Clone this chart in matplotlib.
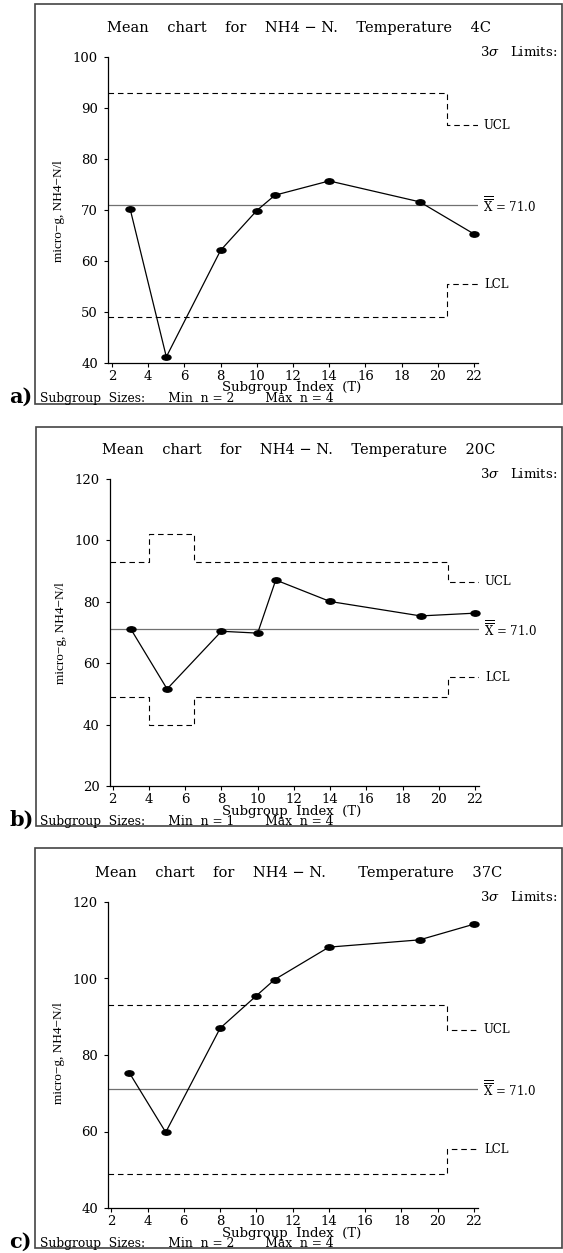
import matplotlib
matplotlib.use("Agg")
import matplotlib.pyplot as plt
import matplotlib.transforms as mtransforms
from matplotlib.patches import Rectangle
from matplotlib.path import Path

# subgroup indices shared by the three temperatures
subgroups = [3, 5, 8, 10, 11, 14, 19, 22]

mean_4c = [70.2, 41.2, 62.1, 69.9, 72.9, 75.7, 71.6, 65.3]
mean_20c = [71.1, 51.6, 70.4, 69.8, 87.1, 80.1, 75.4, 76.3]
mean_37c = [75.3, 59.8, 87.0, 95.5, 99.7, 108.2, 110.1, 114.2]

center = 71.0

ucl_4c = [93.0, 93.0, 93.0, 93.0, 93.0, 93.0, 93.0, 86.6]
lcl_4c = [49.0, 49.0, 49.0, 49.0, 49.0, 49.0, 49.0, 55.4]
ucl_20c = [93.0, 102.1, 93.0, 93.0, 93.0, 93.0, 93.0, 86.6]
lcl_20c = [49.0, 39.9, 49.0, 49.0, 49.0, 49.0, 49.0, 55.4]
ucl_37c = ucl_4c
lcl_37c = lcl_4c

titles = ["Mean    chart    for    NH4 \u2212 N.    Temperature    4C",
          "Mean    chart    for    NH4 \u2212 N.    Temperature    20C",
          "Mean    chart    for    NH4 \u2212 N.       Temperature    37C"]
size_notes = ["Subgroup  Sizes:      Min  n = 2        Max  n = 4",
              "Subgroup  Sizes:      Min  n = 1        Max  n = 4",
              "Subgroup  Sizes:      Min  n = 2        Max  n = 4"]
panel_tags = ["a)", "b)", "c)"]
xticks = list(range(2, 23, 2))

W, H = 563, 1253
SERIF = "DejaVu Serif"
plt.rcParams["mathtext.fontset"] = "dejavuserif"

# flattened dot used for the subgroup means
dot = Path.unit_circle().transformed(mtransforms.Affine2D().scale(1.0, 0.6))

fig = plt.figure(figsize=(W / 100, H / 100), dpi=100)


def fx(x):
    return x / W


def fy(y):
    return 1 - y / H


def step_limits(ax, xs, vals, xlim):
    # limits change halfway between neighbouring subgroups
    edges = [xlim[0]] + [(a + b) / 2 for a, b in zip(xs[:-1], xs[1:])] + [xlim[1]]
    ys = list(vals) + [vals[-1]]
    ax.step(edges, ys, where="post", color="black", lw=0.8,
            linestyle=(0, (5, 3.5)))


def draw_panel(frame, box, xlim, ylim, ystep, means, ucl, lcl, title, note, tag, ytext):
    left, top, right, bottom = box
    # outer frame of the panel
    fl, ft, fr, fb = frame
    fig.patches.append(Rectangle((fx(fl), fy(fb)), fx(fr) - fx(fl), fy(ft) - fy(fb),
                                 transform=fig.transFigure, fill=False,
                                 edgecolor="#444444", lw=1.2))
    ax = fig.add_axes([fx(left), fy(bottom), fx(right) - fx(left), fy(top) - fy(bottom)])
    ax.set_xlim(xlim)
    ax.set_ylim(ylim)
    ax.set_xticks(xticks)
    ax.set_yticks(range(ylim[0], ylim[1] + 1, ystep))
    for s in ["top", "right"]:
        ax.spines[s].set_visible(False)
    for s in ["left", "bottom"]:
        ax.spines[s].set_linewidth(0.9)
    ax.tick_params(direction="out", length=3, width=0.8, labelsize=9.5)
    ax.tick_params(axis="y", pad=4)
    ax.tick_params(axis="x", pad=2)
    for lab in ax.get_xticklabels() + ax.get_yticklabels():
        lab.set_fontfamily(SERIF)

    ax.axhline(center, color="#707070", lw=0.9)
    step_limits(ax, subgroups, ucl, xlim)
    step_limits(ax, subgroups, lcl, xlim)
    ax.plot(subgroups, means, color="black", lw=0.9, marker=dot, ms=6.5,
            clip_on=False)

    tr = mtransforms.blended_transform_factory(ax.transAxes, ax.transData)
    ax.text(1.017, ucl[-1], "UCL", transform=tr, fontsize=8.5, family=SERIF,
            va="center", ha="left")
    ax.text(1.017, lcl[-1], "LCL", transform=tr, fontsize=8.5, family=SERIF,
            va="center", ha="left")
    ax.text(1.014, center, r"$\overline{\overline{\mathrm{X}}}$ = 71.0", transform=tr,
            fontsize=8.5, family=SERIF, va="center", ha="left")

    fig.text(fx(ytext[0]), fy(ytext[1]), "micro\u2212g, NH4\u2212N/l",
             family="Liberation Serif", fontsize=9.5, rotation=90,
             ha="center", va="center")

    fig.text(fx(299), fy(top - 29), title, family=SERIF, fontsize=10.5,
             ha="center", va="center")
    fig.text(fx(480), fy(top - 5), r"3$\sigma$   Limits:", family=SERIF, fontsize=9.5,
             ha="left", va="center")
    fig.text(fx(292), fy(bottom + 25), "Subgroup  Index  (T)", family=SERIF,
             fontsize=9.5, ha="center", va="center")
    fig.text(fx(40), fy(bottom + 36), note, family=SERIF, fontsize=8.8,
             ha="left", va="center")
    fig.text(fx(9), fy(bottom + 34), tag, family=SERIF, fontsize=15,
             fontweight="bold", ha="left", va="center")
    return ax


draw_panel((34.5, 4, 562, 404), (107.7, 57, 477.6, 363), (1.76, 22.2), (40, 100), 10,
           mean_4c, ucl_4c, lcl_4c, titles[0], size_notes[0], panel_tags[0], (59, 211))
draw_panel((36, 427, 562, 826), (109.5, 479, 478.6, 786), (1.82, 22.2), (20, 120), 20,
           mean_20c, ucl_20c, lcl_20c, titles[1], size_notes[1], panel_tags[1], (61, 633))
draw_panel((34.8, 848, 562, 1248), (107.7, 902, 477.6, 1208), (1.8, 22.2), (40, 120), 20,
           mean_37c, ucl_37c, lcl_37c, titles[2], size_notes[2], panel_tags[2], (59, 1053))

fig.savefig("out.png", dpi=100)
